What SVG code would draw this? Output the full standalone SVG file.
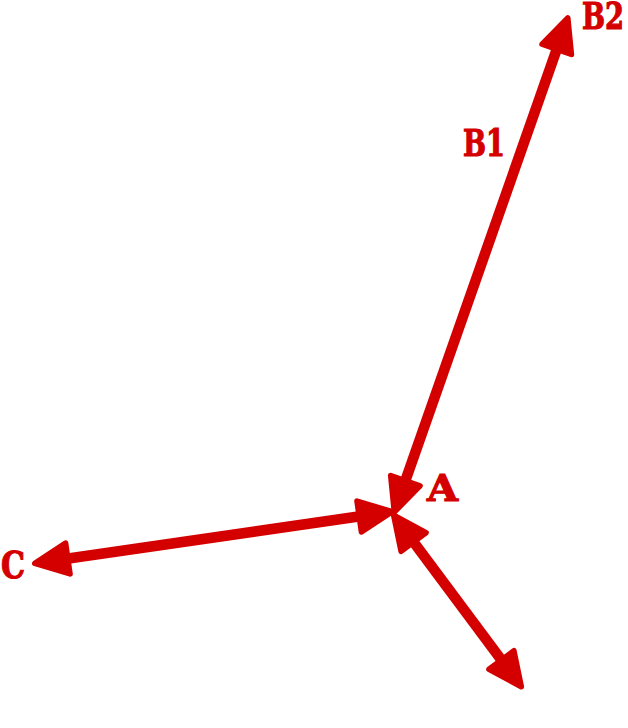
<svg xmlns="http://www.w3.org/2000/svg" width="628" height="728" viewBox="0 0 628 728">
<style>
.lbl{font-family:"DejaVu Serif","Liberation Serif",serif;font-weight:bold;font-size:38px;fill:#d40000;stroke:#d40000;stroke-width:1.2}
.con{stroke:#d40000;stroke-width:10.5;fill:none;marker-start:url(#ah);marker-end:url(#ah)}
</style>
<defs>
<marker id="ah" markerUnits="userSpaceOnUse" markerWidth="50" markerHeight="50" viewBox="-5 -20 45 40" refX="0" refY="0" orient="auto-start-reverse" overflow="visible">
<path d="M-1,-14 L29,0 L-1,14 Z" fill="#d40000" stroke="#d40000" stroke-width="5" stroke-linejoin="round"/>
</marker>
</defs>
<rect width="628" height="728" fill="#ffffff"/>
<g id="connectors">
<line class="con" x1="405" y1="481.7" x2="557.1" y2="48.3"/>
<line class="con" x1="360.3" y1="516.3" x2="66.7" y2="558.7"/>
<line class="con" x1="412.9" y1="541.1" x2="502.1" y2="660.9"/>
</g>
<g id="node-A"><text class="lbl" x="427" y="501" textLength="31" lengthAdjust="spacingAndGlyphs">A</text></g>
<g id="node-B1"><text class="lbl" x="463" y="156" textLength="42" lengthAdjust="spacingAndGlyphs">B1</text></g>
<g id="node-B2"><text class="lbl" x="582" y="29" textLength="42" lengthAdjust="spacingAndGlyphs">B2</text></g>
<g id="node-C"><text class="lbl" x="1" y="578" textLength="24" lengthAdjust="spacingAndGlyphs">C</text></g>
</svg>
